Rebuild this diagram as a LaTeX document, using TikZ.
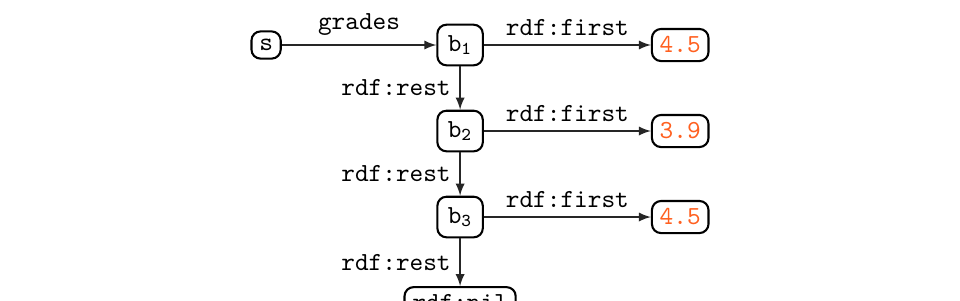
\documentclass[tikz,border=0pt]{standalone}
\usepackage{tikz}
\usetikzlibrary{arrows}
\definecolor{litcol}{RGB}{255,96,32}
\definecolor{edgecol}{gray}{0.15}
\tikzset{
  res/.style={draw,rounded corners=3.5pt,thick,inner sep=3pt,font=\ttfamily},
  blank/.style={res,inner sep=4pt,minimum height=12.5pt},
  lit/.style={res,text=litcol,minimum height=11pt},
  arc/.style={->,>=latex,semithick,draw=edgecol},
  elab/.style={font=\ttfamily},
}
\begin{document}
\begin{tikzpicture}[x=1cm,y=1cm]
  \useasboundingbox (0,0) rectangle (12.97,-4.054);
  \node[res] (s) at (3.595,-0.608) {s};
  \node[blank] (b1) at (6.216,-0.608) {b$_{\mathtt{1}}$};
  \node[blank] (b2) at (6.216,-1.770) {b$_{\mathtt{2}}$};
  \node[blank] (b3) at (6.216,-2.932) {b$_{\mathtt{3}}$};
  \node[res] (nil) at (6.216,-4.094) {rdf:nil};
  \node[lit] (v1) at (9.19,-0.608) {4.5};
  \node[lit] (v2) at (9.19,-1.770) {3.9};
  \node[lit] (v3) at (9.19,-2.932) {4.5};
  \draw[arc] (s) -- node[elab,above] {grades} (b1);
  \draw[arc] (b1) -- node[elab,above] {rdf:first} (v1);
  \draw[arc] (b2) -- node[elab,above] {rdf:first} (v2);
  \draw[arc] (b3) -- node[elab,above] {rdf:first} (v3);
  \draw[arc] (b1) -- node[elab,left] {rdf:rest} (b2);
  \draw[arc] (b2) -- node[elab,left] {rdf:rest} (b3);
  \draw[arc] (b3) -- node[elab,left] {rdf:rest} (nil);
\end{tikzpicture}
\end{document}
